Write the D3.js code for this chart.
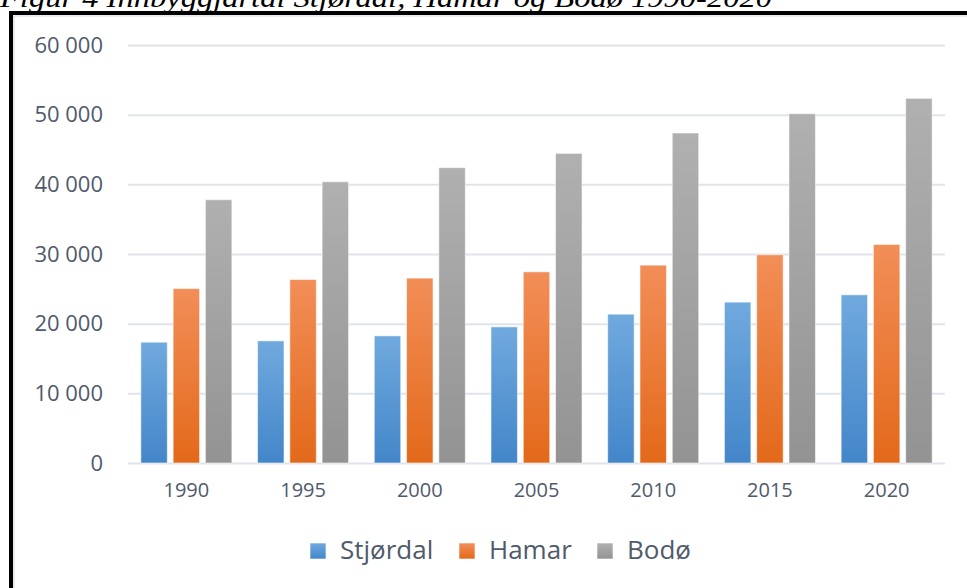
<!DOCTYPE html>
<html>
<head>
<meta charset="utf-8">
<script src="https://cdn.jsdelivr.net/npm/d3@7"></script>
<style>
  html, body { margin: 0; padding: 0; background: #fff; }
  svg { display: block; }
</style>
</head>
<body>
<div class="viz"></div>
<script>
const years = ['1990', '1995', '2000', '2005', '2010', '2015', '2020'];
const seriesNames = ['Stjørdal', 'Hamar', 'Bodø'];
const stjordal = [17340, 17530, 18250, 19540, 21360, 23090, 24140];
const hamar = [25040, 26340, 26540, 27440, 28400, 29890, 31370];
const bodo = [37790, 40370, 42390, 44440, 47370, 50140, 52340];
const yTicks = [0, 10000, 20000, 30000, 40000, 50000, 60000];
const title = 'Figur 4 Innbyggjartal Stjørdal, Hamar og Bodø 1990-2020';

const values = [stjordal, hamar, bodo];
const colors = [
    { top: '#70a9de', bottom: '#4386c9' },
    { top: '#f28e58', bottom: '#e3691a' },
    { top: '#b0b0b0', bottom: '#939393' }
];

const w = 967;
const h = 588;
const svg = d3.select('.viz').append('svg')
    .attr('width', w)
    .attr('height', h);

// gradients for bars
const defs = svg.append('defs');
colors.forEach((c, i) => {
    const g = defs.append('linearGradient')
        .attr('id', 'grad' + i)
        .attr('x1', 0).attr('y1', 0).attr('x2', 0).attr('y2', 1);
    g.append('stop').attr('offset', '0%').attr('stop-color', c.top);
    g.append('stop').attr('offset', '100%').attr('stop-color', c.bottom);
});

// title (cut off at the top in the source)
svg.append('text')
    .attr('x', 0)
    .attr('y', 7)
    .attr('textLength', 772)
    .attr('lengthAdjust', 'spacingAndGlyphs')
    .style('font-family', '"Liberation Serif", "Times New Roman", serif')
    .style('font-style', 'italic')
    .style('font-size', '27px')
    .style('fill', '#000')
    .text(title);

// frame
svg.append('rect')
    .attr('x', 11).attr('y', 13)
    .attr('width', w + 20).attr('height', h + 20)
    .attr('fill', '#fff')
    .attr('stroke', '#000')
    .attr('stroke-width', 4);
svg.append('rect')
    .attr('x', 14).attr('y', 16)
    .attr('width', w + 20).attr('height', h + 20)
    .attr('fill', 'none')
    .attr('stroke', '#dfe3ea')
    .attr('stroke-width', 1.5);

const plotLeft = 128;
const plotRight = 945;
const plotTop = 45;
const plotBottom = 463;

const x0 = d3.scaleBand().domain(years).range([plotLeft, plotRight])
    .paddingInner(0.22).paddingOuter(0.11);
const x1 = d3.scaleBand().domain(d3.range(seriesNames.length)).range([0, x0.bandwidth()])
    .paddingInner(0.18).paddingOuter(0);
const y = d3.scaleLinear().domain([0, 60000]).range([plotBottom, plotTop]);

const locale = d3.formatLocale({ decimal: ',', thousands: ' ', grouping: [3], currency: ['', ' kr'] });
const fmt = locale.format(',');

const textColor = '#4f5a6b';

// y axis: gridlines + labels
const yAxis = svg.append('g')
    .attr('transform', `translate(${plotLeft},0)`)
    .call(d3.axisLeft(y).tickValues(yTicks).tickFormat(fmt).tickSize(-(plotRight - plotLeft)).tickPadding(25));
yAxis.select('.domain').remove();
yAxis.selectAll('.tick line')
    .attr('stroke', '#dfe3ea')
    .attr('stroke-width', 2);
yAxis.selectAll('.tick text')
    .style('font-family', '"Open Sans", sans-serif')
    .style('font-size', '22px')
    .attr('fill', textColor);

// bars
const groups = svg.append('g').selectAll('g')
    .data(years)
    .join('g')
    .attr('transform', d => `translate(${x0(d)},0)`);

groups.selectAll('rect')
    .data((d, i) => values.map((s, k) => ({ k, v: s[i] })))
    .join('rect')
    .attr('x', d => x1(d.k))
    .attr('width', x1.bandwidth())
    .attr('y', d => y(d.v))
    .attr('height', d => y(0) - y(d.v))
    .attr('fill', d => `url(#grad${d.k})`)
    .attr('stroke', 'rgba(255,255,255,0.55)')
    .attr('stroke-width', 1);

// x axis labels
const xAxis = svg.append('g')
    .attr('transform', `translate(0,${plotBottom})`)
    .call(d3.axisBottom(x0).tickSize(0).tickPadding(20));
xAxis.select('.domain').remove();
xAxis.selectAll('.tick text')
    .style('font-family', '"Open Sans", sans-serif')
    .style('font-size', '20px')
    .attr('fill', textColor);

// legend
const legendX = [310, 459, 597];
const legend = svg.append('g').selectAll('g')
    .data(seriesNames)
    .join('g')
    .attr('transform', (d, i) => `translate(${legendX[i]},543)`);
legend.append('rect')
    .attr('width', 16).attr('height', 16)
    .attr('fill', (d, i) => `url(#grad${i})`)
    .attr('stroke', 'rgba(255,255,255,0.6)');
legend.append('text')
    .attr('x', 30)
    .attr('y', 16)
    .style('font-family', '"Open Sans", sans-serif')
    .style('font-size', '26px')
    .attr('fill', textColor)
    .text(d => d);
</script>
</body>
</html>
